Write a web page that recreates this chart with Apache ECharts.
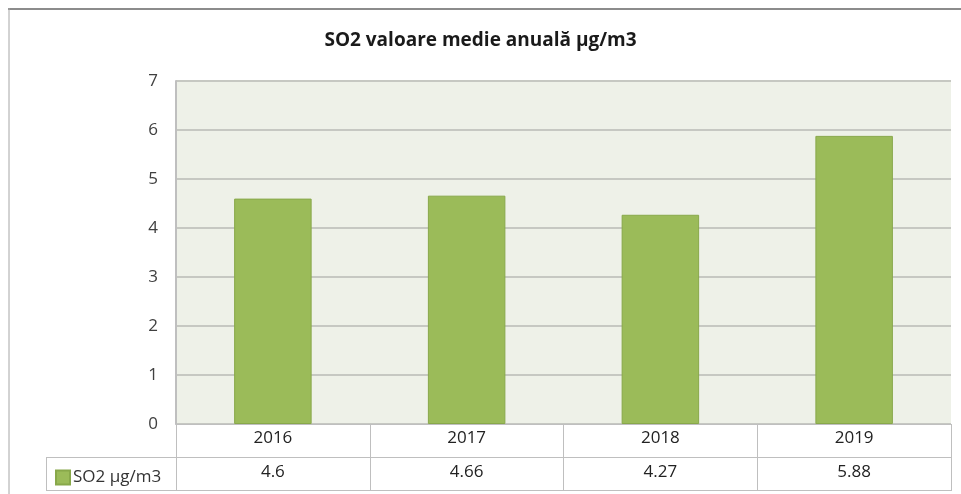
<!DOCTYPE html>
<html>
<head>
<meta charset="utf-8">
<script src="https://cdn.jsdelivr.net/npm/echarts@6/dist/echarts.min.js"></script>
<style>
  html, body { margin: 0; padding: 0; background: #fff; }
  #chart { width: 961px; height: 494px; }
</style>
</head>
<body>
<div id="chart"></div>
<script>
// date
const years = ['2016', '2017', '2018', '2019'];
const so2Values = [4.6, 4.66, 4.27, 5.88];
const seriesName = 'SO2 µg/m3';
const chartTitle = 'SO2 valoare medie anuală µg/m3';

const fontFam = '"Open Sans", "Liberation Sans", sans-serif';
const lineColor = '#bfbfbf';

const chart = echarts.init(document.getElementById('chart'));

chart.setOption({
  animation: false,
  title: {
    text: chartTitle,
    left: 'center',
    top: 26,
    padding: [5, 5, 5, 25], // titlul e putin deplasat spre dreapta
    textStyle: { fontFamily: fontFam, fontSize: 19, fontWeight: 'bold', color: '#1a1a1a' }
  },
  legend: {
    data: [seriesName],
    left: 50,
    top: 464,
    itemWidth: 14,
    itemHeight: 14,
    itemGap: 4,
    icon: 'rect',
    textStyle: { fontFamily: fontFam, fontSize: 17, color: '#333', padding: [0, 0, 0, -2] }
  },
  grid: {
    left: 176, right: 10, top: 81, bottom: 70,
    show: true,
    backgroundColor: '#eef1e8',
    borderWidth: 0
  },
  xAxis: [
    {
      type: 'category',
      data: years,
      axisLine: { lineStyle: { color: lineColor, width: 1 } },
      axisTick: { show: true, length: 66, lineStyle: { color: lineColor } },
      axisLabel: { fontFamily: fontFam, fontSize: 17, color: '#222', margin: 6 }
    },
    {
      type: 'category',
      position: 'bottom',
      offset: 34,
      data: so2Values.map(v => String(v)),
      axisLine: { show: false },
      axisTick: { show: false },
      axisLabel: { fontFamily: fontFam, fontSize: 17, color: '#222', margin: 6 }
    }
  ],
  yAxis: {
    type: 'value',
    min: 0,
    max: 7,
    interval: 1,
    axisLine: { show: true, lineStyle: { color: lineColor, width: 2 } },
    axisTick: { show: false },
    axisLabel: { fontFamily: fontFam, fontSize: 17, color: '#404040', margin: 18 },
    splitLine: { lineStyle: { color: '#c6c8c2', width: 2 } }
  },
  series: [{
    name: seriesName,
    type: 'bar',
    xAxisIndex: 0,
    data: so2Values,
    barWidth: '40%',
    itemStyle: { color: '#9bbb59', borderColor: '#88a84a', borderWidth: 1 }
  }],
  graphic: [
    // chenar exterior
    { type: 'line', shape: { x1: 8, y1: 9, x2: 961, y2: 9 }, style: { stroke: '#8c8c8c', lineWidth: 2 } },
    { type: 'line', shape: { x1: 9, y1: 8, x2: 9, y2: 494 }, style: { stroke: '#a6a6a6', lineWidth: 1 } },
    // tabel de date
    { type: 'line', shape: { x1: 46, y1: 457.5, x2: 952, y2: 457.5 }, style: { stroke: lineColor, lineWidth: 1 } },
    { type: 'line', shape: { x1: 46, y1: 490.5, x2: 952, y2: 490.5 }, style: { stroke: lineColor, lineWidth: 1 } },
    { type: 'line', shape: { x1: 46.5, y1: 457, x2: 46.5, y2: 491 }, style: { stroke: lineColor, lineWidth: 1 } }
  ]
});
</script>
</body>
</html>
